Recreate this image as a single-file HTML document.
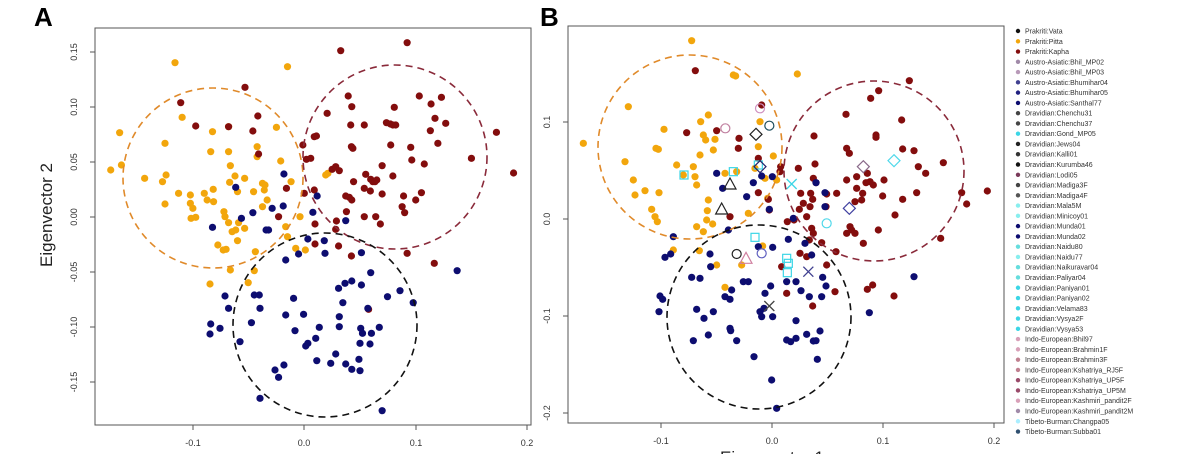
<!DOCTYPE html>
<html><head><meta charset="utf-8"><style>
html,body{margin:0;padding:0;background:#fff;width:1200px;height:454px;overflow:hidden}
svg{display:block;font-family:"Liberation Sans",sans-serif}
</style></head><body>
<svg id="s" width="1200" height="454" xmlns="http://www.w3.org/2000/svg">
<rect width="1200" height="454" fill="#fff"/>
<text x="34" y="26" font-size="26" font-weight="bold">A</text>
<text x="540" y="26" font-size="26" font-weight="bold">B</text>
<rect x="95" y="28" width="436" height="397" fill="none" stroke="#555" stroke-width="1"/>
<rect x="568" y="26" width="436" height="397" fill="none" stroke="#555" stroke-width="1"/>
<text transform="translate(52,215) rotate(-90)" font-size="17" text-anchor="middle" fill="#222">Eigenvector 2</text>
<text x="772" y="463" font-size="17" text-anchor="middle" fill="#222">Eigenvector 1</text>
<g id="ax" font-size="9" fill="#333" stroke="#555"></g>
<g id="pts"></g>
<g fill="none" stroke-width="1.6" stroke-dasharray="7,5">
<circle cx="213" cy="178" r="90" stroke="#e08a2a"/>
<circle cx="395" cy="157" r="92" stroke="#8a2a3a"/>
<circle cx="325" cy="325" r="92" stroke="#111"/>
<circle cx="690" cy="147" r="92" stroke="#e08a2a"/>
<circle cx="874" cy="171" r="90" stroke="#8a2a3a"/>
<circle cx="759" cy="317" r="92" stroke="#111"/>
</g>
<g id="leg" font-size="7" fill="#333"></g>
</svg>
<script>
var NS="http://www.w3.org/2000/svg";
function el(t,a,p,txt){var e=document.createElementNS(NS,t);for(var k in a)e.setAttribute(k,a[k]);if(txt)e.textContent=txt;document.getElementById(p).appendChild(e);return e;}
// axes ticks A
[[-0.1,193],[0.0,304],[0.1,416],[0.2,527]].forEach(function(t){el('line',{x1:t[1],x2:t[1],y1:425,y2:430},'ax');el('text',{x:t[1],y:446,'text-anchor':'middle',stroke:'none'},'ax',t[0].toFixed(1));});
[[0.15,52],[0.10,107],[0.05,162],[0.00,217],[-0.05,272],[-0.10,327],[-0.15,382]].forEach(function(t){el('line',{x1:90,x2:95,y1:t[1],y2:t[1]},'ax');el('text',{transform:'translate(77,'+t[1]+') rotate(-90)','text-anchor':'middle',stroke:'none'},'ax',t[0].toFixed(2));});
[[-0.1,661],[0.0,772],[0.1,883],[0.2,994]].forEach(function(t){el('line',{x1:t[1],x2:t[1],y1:423,y2:428},'ax');el('text',{x:t[1],y:444,'text-anchor':'middle',stroke:'none'},'ax',t[0].toFixed(1));});
[[0.1,122],[0.0,219],[-0.1,316],[-0.2,413]].forEach(function(t){el('line',{x1:563,x2:568,y1:t[1],y2:t[1]},'ax');el('text',{transform:'translate(550,'+t[1]+') rotate(-90)','text-anchor':'middle',stroke:'none'},'ax',t[0].toFixed(1));});
var O="#f2a60c",R="#830d0d",N="#0d0d70";
function A(list,c){list.forEach(function(p){el('circle',{cx:p[0]/2.8,cy:p[1]/3,r:3.6,fill:c},'pts');});}
function B(list,c){list.forEach(function(p){el('circle',{cx:540+p[0]/3,cy:p[1]/3,r:3.6,fill:c},'pts');});}
A([[490,188],[805,200],[335,398],[310,510],[340,495],[405,535],[462,430],[510,352],[465,525],[455,545],[462,612],[500,580],[533,585],[533,610],[540,625],[535,655],[548,652],[572,580],[580,600],[597,568],[598,605],[595,395],[590,455],[640,380],[640,455],[645,497],[658,528],[643,547],[685,535],[665,575],[720,440],[720,470],[735,550],[742,555],[740,570],[710,575],[748,600],[735,620],[774,382],[786,483],[815,545],[627,635],[630,650],[640,668],[668,668],[660,690],[685,685],[650,695],[665,722],[610,735],[625,750],[633,748],[715,755],[800,680],[805,710],[828,745],[855,750],[840,650],[645,810],[588,852],[695,848],[712,812],[918,520],[912,525]],O);
A([[954,152],[1140,128],[686,262],[506,308],[548,378],[640,380],[722,348],[708,393],[724,462],[848,435],[858,478],[870,475],[880,410],[886,408],[916,340],[975,288],[985,320],[982,375],[1020,375],[984,440],[988,445],[1104,322],[1082,368],[1093,372],[1100,375],[1108,375],[1094,435],[1150,442],[1153,480],[1188,492],[1174,288],[1207,312],[1236,292],[1218,355],[1205,392],[1226,430],[1248,370],[1320,475],[1390,397],[1438,519],[990,545],[1024,523],[1038,538],[1044,545],[1050,545],[1055,540],[1070,497],[1100,528],[930,508],[950,512],[940,500],[968,588],[978,592],[985,600],[1020,565],[1037,573],[1070,582],[1130,588],[1164,600],[1180,578],[1126,620],[1133,638],[970,635],[1020,650],[1052,650],[1065,672],[942,663],[940,688],[880,570],[852,580],[802,565],[780,650],[882,672],[882,732],[948,738],[984,768],[1140,760],[1216,790],[1032,928]],R);
A([[795,522],[660,562],[888,588],[708,638],[676,655],[762,625],[793,618],[876,637],[595,682],[745,690],[752,690],[862,717],[836,762],[908,722],[910,760],[800,780],[968,662],[1012,758],[1280,812],[1038,818],[948,865],[966,850],[985,843],[1012,855],[960,908],[630,888],[640,925],[712,885],[726,885],[728,925],[822,895],[800,945],[850,943],[950,950],[1120,872],[1085,890],[1157,908],[1030,925],[590,972],[616,985],[588,1002],[672,1025],[704,968],[826,992],[862,1030],[856,1038],[884,1015],[894,982],[950,980],[1010,985],[1015,1000],[1008,1030],[1036,1032],[1062,982],[887,1082],[940,1062],[926,1090],[968,1092],[985,1108],[1005,1078],[1008,1112],[770,1110],[795,1095],[780,1132],[728,1195],[1070,1232],[1040,1000]],N);
B([[455,122],[580,225],[772,222],[130,430],[265,320],[372,388],[355,448],[348,445],[255,485],[280,540],[285,585],[315,572],[357,578],[335,628],[345,650],[352,665],[410,495],[430,525],[460,500],[465,530],[480,465],[482,365],[505,345],[490,405],[497,420],[525,418],[520,450],[470,555],[505,600],[502,632],[470,680],[490,695],[518,672],[500,660],[555,520],[590,515],[655,440],[660,365],[700,468],[710,540],[683,595],[625,640],[645,505],[675,535],[400,750],[478,752],[530,795],[555,862],[605,795],[668,738],[587,228]],O);
B([[466,212],[665,315],[530,392],[440,398],[597,415],[595,445],[655,475],[720,515],[722,500],[775,505],[822,408],[825,492],[820,535],[828,548],[782,580],[790,610],[812,580],[818,598],[810,620],[778,628],[742,665],[762,660],[800,650],[815,685],[820,700],[808,720],[845,728],[860,582],[858,620],[890,580],[920,540],[920,445],[928,460],[918,343],[950,530],[950,565],[945,605],[965,600],[992,295],[1016,272],[1008,405],[1008,412],[1085,360],[1088,447],[1122,452],[1108,242],[1135,500],[1157,520],[1210,488],[1130,578],[1088,598],[1065,645],[1028,588],[1032,540],[1000,555],[990,545],[982,520],[978,548],[968,580],[1015,690],[930,680],[935,690],[945,700],[920,700],[970,730],[888,755],[860,795],[885,875],[982,868],[998,855],[1062,888],[1202,715],[1265,578],[1280,612],[1342,573],[740,880],[818,918],[725,800],[780,760],[800,770],[655,578],[570,650],[685,598],[688,630]],R);
B([[530,520],[548,565],[620,590],[640,548],[665,528],[697,530],[688,628],[760,655],[828,548],[855,578],[855,620],[400,710],[375,772],[392,762],[510,762],[512,800],[455,832],[480,835],[565,690],[655,740],[698,742],[745,718],[795,730],[815,765],[575,870],[610,845],[625,845],[675,880],[692,858],[740,845],[768,845],[783,872],[808,890],[845,890],[848,832],[858,858],[1122,830],[988,938],[555,890],[570,898],[520,935],[470,928],[360,888],[368,898],[357,935],[492,955],[505,1005],[460,1022],[570,985],[572,992],[590,1022],[642,1070],[660,935],[665,950],[672,925],[698,950],[768,962],[740,1020],[752,1025],[768,1015],[800,1003],[820,1023],[828,1022],[840,993],[832,1078],[695,1140],[710,1225]],N);
// special markers in B
function bx(x){return 540+x/3}function by(y){return y/3}
[[740,775],[745,790],[742,818],[645,712],[580,515],[432,525],[655,495]].forEach(function(p){el('rect',{x:bx(p[0])-4,y:by(p[1])-4,width:8,height:8,fill:'none',stroke:'#3cd6e6','stroke-width':1.2},'pts');});
[[1062,482,'#4fd8ea'],[648,403,'#222'],[970,500,'#8a6a8a'],[660,500,'#22226a'],[928,625,'#4040a0']].forEach(function(p){var x=bx(p[0]),y=by(p[1]);el('polygon',{points:(x)+','+(y-6)+' '+(x+6)+','+y+' '+x+','+(y+6)+' '+(x-6)+','+y,fill:'none',stroke:p[2],'stroke-width':1.2},'pts');});
[[556,385,'#c080a0'],[688,377,'#205060'],[660,325,'#d090c0'],[590,762,'#222'],[860,670,'#4fd8ea'],[665,760,'#6060c0']].forEach(function(p){el('circle',{cx:bx(p[0]),cy:by(p[1]),r:4.5,fill:'none',stroke:p[2],'stroke-width':1.2},'pts');});
[[570,552,'#222'],[545,627,'#222'],[618,775,'#d080a0']].forEach(function(p){var x=bx(p[0]),y=by(p[1]);el('polygon',{points:x+','+(y-6)+' '+(x+6)+','+(y+5)+' '+(x-6)+','+(y+5),fill:'none',stroke:p[2],'stroke-width':1.2},'pts');});
[[755,552,'#3cd6e6'],[805,815,'#404090'],[688,918,'#444']].forEach(function(p){var x=bx(p[0]),y=by(p[1]);el('path',{d:'M'+(x-5)+' '+(y-5)+'L'+(x+5)+' '+(y+5)+'M'+(x+5)+' '+(y-5)+'L'+(x-5)+' '+(y+5),stroke:p[2],'stroke-width':1.3},'pts');});
// legend
var L=[["Prakriti:Vata","#111"],["Prakriti:Pitta","#f2a60c"],["Prakriti:Kapha","#830d0d"],["Austro-Asiatic:Bhil_MP02","#a08aa8"],["Austro-Asiatic:Bhil_MP03","#b89ab8"],["Austro-Asiatic:Bhumihar04","#404090"],["Austro-Asiatic:Bhumihar05","#202080"],["Austro-Asiatic:Santhal77","#0d0d70"],["Dravidian:Chenchu31","#444"],["Dravidian:Chenchu37","#444"],["Dravidian:Gond_MP05","#3cd6e6"],["Dravidian:Jews04","#222"],["Dravidian:Kalli01","#333"],["Dravidian:Kurumba46","#111"],["Dravidian:Lodi05","#7a3a5a"],["Dravidian:Madiga3F","#444"],["Dravidian:Madiga4F","#555"],["Dravidian:Mala5M","#8ee"],["Dravidian:Minicoy01","#8ee"],["Dravidian:Munda01","#0d0d70"],["Dravidian:Munda02","#0d0d70"],["Dravidian:Naidu80","#6dd"],["Dravidian:Naidu77","#8ee"],["Dravidian:Naikuravar04","#6dd"],["Dravidian:Paliyar04","#6dd"],["Dravidian:Paniyan01","#3cd6e6"],["Dravidian:Paniyan02","#3cd6e6"],["Dravidian:Velama83","#3cd6e6"],["Dravidian:Vysya2F","#3cd6e6"],["Dravidian:Vysya53","#3cd6e6"],["Indo-European:Bhil97","#d8a0b8"],["Indo-European:Brahmin1F","#d8a0b8"],["Indo-European:Brahmin3F","#c08090"],["Indo-European:Kshatriya_RJ5F","#c08090"],["Indo-European:Kshatriya_UP5F","#9a4a6a"],["Indo-European:Kshatriya_UP5M","#9a4a6a"],["Indo-European:Kashmiri_pandit2F","#d8a0b8"],["Indo-European:Kashmiri_pandit2M","#a08aa8"],["Tibeto-Burman:Changpa05","#aef"],["Tibeto-Burman:Subba01","#305070"]];
L.forEach(function(l,i){var y=33+i*10.27;el('circle',{cx:1018,cy:y-2,r:2.2,fill:l[1]},'leg');el('text',{x:1025,y:y+0.5},'leg',l[0]);});
</script>
</body></html>
